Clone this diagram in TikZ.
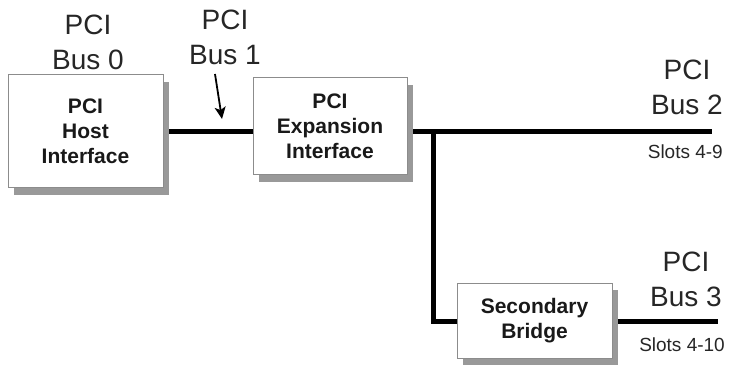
\documentclass[tikz,border=0pt]{standalone}
\usepackage{fontspec}
\setmainfont{Liberation Sans}
\usetikzlibrary{shadows,arrows.meta,backgrounds}
\begin{document}
\begin{tikzpicture}[x=1pt,y=-1pt,
  card/.style={draw=black!45, line width=1pt, fill=white, inner sep=0pt,
    align=center, font=\fontsize{21}{25}\selectfont\bfseries, text=black!90,
    drop shadow={shadow xshift=6pt, shadow yshift=-7pt, fill=black!40, opacity=1}},
  buslabel/.style={align=center, inner sep=0pt, text=black!85, font=\fontsize{28}{35}\selectfont},
  slots/.style={inner sep=0pt, anchor=east, text=black!85, font=\fontsize{19}{22}\selectfont},
  bus/.style={line width=5pt, line join=miter, line cap=butt}]
\useasboundingbox (0,0) rectangle (731,366);

% interfaces and bridge
\node[card, minimum width=155pt, minimum height=113pt] (host) at (85.5,131.5) {PCI\\Host\\Interface};
\node[card, minimum width=154pt, minimum height=97pt] (exp) at (330,126.5) {PCI\\Expansion\\Interface};
\node[card, minimum width=155pt, minimum height=75pt] (sec) at (534.5,320.5) {Secondary\\Bridge};

% bus labels
\node[buslabel] (b0) at (88,42.5) {PCI\\Bus 0};
\node[buslabel] (b1) at (225,37.5) {PCI\\Bus 1};
\node[buslabel] (b2) at (687,87.5) {PCI\\Bus 2};
\node[buslabel] (b3) at (686,279.5) {PCI\\Bus 3};
\node[slots] (s2) at (723,152) {Slots 4-9};
\node[slots] (s3) at (725,345) {Slots 4-10};

% bus lines
\coordinate (end2) at (712,132);
\coordinate (tee) at (433,132);
\coordinate (end3) at (718,321);
\begin{scope}[on background layer]
  \draw[bus] (host.east |- tee) -- (exp.west |- tee);
  \draw[bus] (exp.east |- tee) -- (end2);
  \draw[bus] (tee) -- (tee |- end3) -- (sec.west |- end3);
  \draw[bus] (sec.east |- end3) -- (end3);
\end{scope}

% pointer to bus 1
\coordinate (ptail) at (215,74);
\coordinate (phead) at (222,119);
\draw[line width=1.8pt, -{Stealth[length=12pt,width=11pt,inset=3pt]}] (ptail) -- (phead);
\end{tikzpicture}
\end{document}
